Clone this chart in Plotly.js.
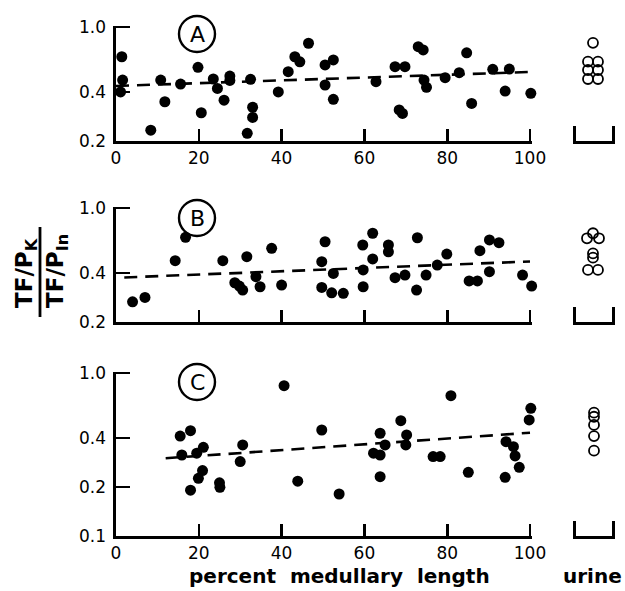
<!DOCTYPE html>
<html>
<head>
<meta charset="utf-8">
<script src="https://cdn.plot.ly/plotly-3.0.1.min.js"></script>
<style>
  html, body { margin: 0; padding: 0; background: #fff; }
  #chart { width: 625px; height: 591px; }
</style>
</head>
<body>
<div id="chart"></div>
<script>
// ---- Panel A: tubular fluid samples ----
const aX = [1.4, 1.6, 1.1, 8.4, 10.8, 11.8, 15.6, 19.8, 20.6, 23.5, 24.5, 26.1, 27.5, 27.5,
            32.5, 33, 33, 31.7, 39.2, 41.6, 43.2, 44.4, 46.5, 50.5, 52.5, 50.5, 52.5, 62.8,
            67.4, 69.8, 68.4, 69.2, 73, 74.2, 74.4, 75, 79.5, 82.9, 84.7, 85.9, 91, 95, 94, 100.2];
const aY = [0.657, 0.473, 0.40, 0.233, 0.473, 0.348, 0.447, 0.566, 0.298, 0.48, 0.42, 0.356, 0.50, 0.47,
            0.478, 0.322, 0.279, 0.223, 0.40, 0.532, 0.657, 0.612, 0.795, 0.585, 0.628, 0.441, 0.36, 0.462,
            0.571, 0.571, 0.31, 0.295, 0.757, 0.723, 0.473, 0.427, 0.489, 0.525, 0.695, 0.34, 0.55, 0.552, 0.405, 0.392];
const aFitX = [0, 100];
const aFitY = [0.435, 0.53];
const aUrineX = [0.476, 0.357, 0.595, 0.357, 0.595, 0.357, 0.595];
const aUrineY = [0.80, 0.613, 0.613, 0.545, 0.545, 0.48, 0.48];

// ---- Panel B ----
const bX = [4, 7, 14.3, 16.8, 25.8, 31.6, 37.6, 28.7, 29.8, 30.6, 33.8, 34.8, 40,
            50.5, 49.7, 52.5, 49.7, 52.1, 54.9, 59.6, 62, 62, 59.7, 59.7, 65.8, 65.8, 67.4, 69.8,
            72.8, 74.9, 72.6, 77.6, 79.9, 85.3, 87.3, 87.9, 90.2, 92.5, 90.2, 98.2, 100.4];
const bY = [0.266, 0.283, 0.475, 0.661, 0.475, 0.503, 0.566, 0.348, 0.332, 0.314, 0.379, 0.329, 0.337,
            0.621, 0.469, 0.397, 0.326, 0.302, 0.30, 0.593, 0.70, 0.487, 0.417, 0.329, 0.593, 0.539, 0.374, 0.388,
            0.657, 0.388, 0.314, 0.447, 0.522, 0.357, 0.357, 0.547, 0.637, 0.613, 0.407, 0.388, 0.332];
const bFitX = [2, 100];
const bFitY = [0.375, 0.47];
const bUrineX = [0.333, 0.476, 0.619, 0.476, 0.476, 0.357, 0.595];
const bUrineY = [0.652, 0.70, 0.652, 0.527, 0.496, 0.417, 0.417];

// ---- Panel C ----
const cX = [15.5, 18, 15.9, 19.5, 21.1, 20.9, 19.9, 18, 25, 25.1, 30.6, 30, 40.6, 43.9, 49.7,
            53.9, 63.8, 65, 62.2, 63.8, 63.8, 68.8, 70.2, 70, 76.6, 78.3, 80.9, 85.1,
            94.2, 96, 96.4, 94, 97.4, 100.2, 99.8];
const cY = [0.41, 0.443, 0.314, 0.322, 0.35, 0.252, 0.226, 0.191, 0.212, 0.199, 0.362, 0.286, 0.836, 0.217, 0.447,
            0.181, 0.427, 0.362, 0.322, 0.314, 0.231, 0.51, 0.417, 0.362, 0.307, 0.307, 0.726, 0.246,
            0.379, 0.353, 0.31, 0.229, 0.264, 0.607, 0.515];
const cFitX = [12, 100];
const cFitY = [0.30, 0.43];
const cUrineX = [0.5, 0.5, 0.5, 0.5, 0.5];
const cUrineY = [0.571, 0.539, 0.48, 0.41, 0.334];

// ---- Axis tick labels ----
const xTicks = [0, 20, 40, 60, 80, 100];
const xTickText = ['0', '20', '40', '60', '80', '100'];
const yTicksAB = [0.2, 0.4, 1.0];
const yTickTextAB = ['0.2', '0.4', '1.0'];
const yTicksC = [0.1, 0.2, 0.4, 1.0];
const yTickTextC = ['0.1', '0.2', '0.4', '1.0'];
const panelLetters = ['A', 'B', 'C'];

// ---- Layout geometry (pixels in a 625x591 canvas) ----
const W = 625, H = 591;
const L = 116, R = 615, T = 25, B = 536;
const px2x = p => (p - L) / (R - L);
const py2y = p => (B - p) / (B - T);

const FONT = 'DejaVu Sans, Arial, sans-serif';
const INK = '#000';

// Plotly drops inside ticks that sit within 1px of an axis end, so the
// ranges run a hair past 100 and past 1.0 to keep those end ticks drawn.
const X_MAX = 100.5;
const Y_TOP = 0.009;            // log10 units above 1.0
const PX_PER_X = 4.14;          // px per x unit
const PX_PER_DEC = 163;         // px per decade on the log axes

function dots(x, y, xa, ya) {
  return { x, y, xaxis: xa, yaxis: ya, type: 'scatter', mode: 'markers', cliponaxis: false,
           marker: { size: 11, color: INK }, hoverinfo: 'skip' };
}
function fit(x, y, xa, ya) {
  return { x, y, xaxis: xa, yaxis: ya, type: 'scatter', mode: 'lines', cliponaxis: false,
           line: { color: INK, width: 2.6, dash: '13px,8px' }, hoverinfo: 'skip' };
}
function urine(x, y, xa, ya) {
  return { x, y, xaxis: xa, yaxis: ya, type: 'scatter', mode: 'markers', cliponaxis: false,
           marker: { size: 10, symbol: 'circle-open', color: INK, line: { width: 1.8, color: INK } },
           hoverinfo: 'skip' };
}

const traces = [
  fit(aFitX, aFitY, 'x', 'y'), dots(aX, aY, 'x', 'y'), urine(aUrineX, aUrineY, 'x4', 'y4'),
  fit(bFitX, bFitY, 'x2', 'y2'), dots(bX, bY, 'x2', 'y2'), urine(bUrineX, bUrineY, 'x5', 'y5'),
  fit(cFitX, cFitY, 'x3', 'y3'), dots(cX, cY, 'x3', 'y3'), urine(cUrineX, cUrineY, 'x6', 'y6')
];

const mainDom = [px2x(116), px2x(116 + X_MAX * PX_PER_X)];
const urineDom = [px2x(573), 1];
const topPad = Y_TOP * PX_PER_DEC;
const domA = [py2y(141), py2y(27 - topPad)];
const domB = [py2y(322), py2y(208 - topPad)];
const domC = [py2y(536), py2y(373 - topPad)];

const tickFont = { family: FONT, size: 17, color: INK };

function xMain(anchor, showLabels) {
  return { domain: mainDom, anchor, range: [0, X_MAX], showline: true, linewidth: 2.6, linecolor: INK,
           ticks: 'inside', ticklen: 12, tickwidth: 2.6, tickcolor: INK,
           tickvals: xTicks, ticktext: xTickText, showticklabels: showLabels,
           showgrid: false, zeroline: false, tickfont: tickFont, fixedrange: true };
}
// small bracket under the urine samples: a base line with a short upright at each end
function xUrine(anchor) {
  return { domain: urineDom, anchor, range: [0, 1], showline: true, linewidth: 2.6, linecolor: INK,
           ticks: 'inside', ticklen: 15, tickwidth: 2.6, tickcolor: INK,
           tickvals: [0.04, 0.96], showticklabels: false, showgrid: false, zeroline: false, fixedrange: true };
}
function yLog(domain, anchor, lo, vals, text) {
  return { domain, anchor, type: 'log', range: [Math.log10(lo), Y_TOP], showline: true, linewidth: 2.6,
           linecolor: INK, ticks: 'inside', ticklen: 14, tickwidth: 2.6, tickcolor: INK,
           tickvals: vals, ticktext: text, ticklabelstandoff: 4,
           showgrid: false, zeroline: false, tickfont: tickFont, fixedrange: true };
}
// hidden log scale for a urine column, same span as its panel
function yUrine(domain, anchor, lo) {
  return { domain, anchor, type: 'log', range: [Math.log10(lo), Y_TOP], visible: false,
           showgrid: false, zeroline: false, fixedrange: true };
}

// circled panel letters
const letterCentres = [[197, 34], [197, 218], [197, 382]];
const shapes = letterCentres.map(([cx, cy]) => ({
  type: 'circle', xref: 'paper', yref: 'paper',
  xsizemode: 'pixel', ysizemode: 'pixel', xanchor: px2x(cx), yanchor: py2y(cy),
  x0: -18, x1: 18, y0: -18, y1: 18, line: { color: INK, width: 2.4 }
}));
// fraction bar of the y-axis label
shapes.push({ type: 'line', xref: 'paper', yref: 'paper',
  x0: px2x(40), x1: px2x(40), y0: py2y(227), y1: py2y(317), line: { color: INK, width: 2.8 } });

const annotations = letterCentres.map(([cx, cy], i) => ({
  xref: 'paper', yref: 'paper', x: px2x(cx), y: py2y(cy), xanchor: 'center', yanchor: 'middle',
  text: panelLetters[i], showarrow: false, font: { family: FONT, size: 22, color: INK }
}));
annotations.push(
  { xref: 'paper', yref: 'paper', x: px2x(26), y: py2y(273), xanchor: 'center', yanchor: 'middle',
    textangle: -90, text: 'TF/P<sub>K</sub>', showarrow: false,
    font: { family: FONT, size: 23, color: INK, weight: 'bold' } },
  { xref: 'paper', yref: 'paper', x: px2x(57), y: py2y(271), xanchor: 'center', yanchor: 'middle',
    textangle: -90, text: 'TF/P<sub>In</sub>', showarrow: false,
    font: { family: FONT, size: 23, color: INK, weight: 'bold' } },
  { xref: 'paper', yref: 'paper', x: px2x(339), y: py2y(576), xanchor: 'center', yanchor: 'middle',
    text: 'percent  medullary  length', showarrow: false,
    font: { family: FONT, size: 20, color: INK, weight: 'bold' } },
  { xref: 'paper', yref: 'paper', x: px2x(592), y: py2y(576), xanchor: 'center', yanchor: 'middle',
    text: 'urine', showarrow: false, font: { family: FONT, size: 20, color: INK, weight: 'bold' } }
);

const layout = {
  width: W, height: H, showlegend: false,
  paper_bgcolor: '#fff', plot_bgcolor: 'rgba(0,0,0,0)',
  margin: { l: L, r: W - R, t: T, b: H - B, pad: 0 },
  xaxis: xMain('y', true), xaxis2: xMain('y2', false), xaxis3: xMain('y3', true),
  xaxis4: xUrine('y4'), xaxis5: xUrine('y5'), xaxis6: xUrine('y6'),
  yaxis: yLog(domA, 'x', 0.2, yTicksAB, yTickTextAB),
  yaxis2: yLog(domB, 'x2', 0.2, yTicksAB, yTickTextAB),
  yaxis3: yLog(domC, 'x3', 0.1, yTicksC, yTickTextC),
  yaxis4: yUrine(domA, 'x4', 0.2), yaxis5: yUrine(domB, 'x5', 0.2), yaxis6: yUrine(domC, 'x6', 0.1),
  shapes, annotations
};

Plotly.newPlot('chart', traces, layout, { staticPlot: true, displayModeBar: false });
</script>
</body>
</html>
